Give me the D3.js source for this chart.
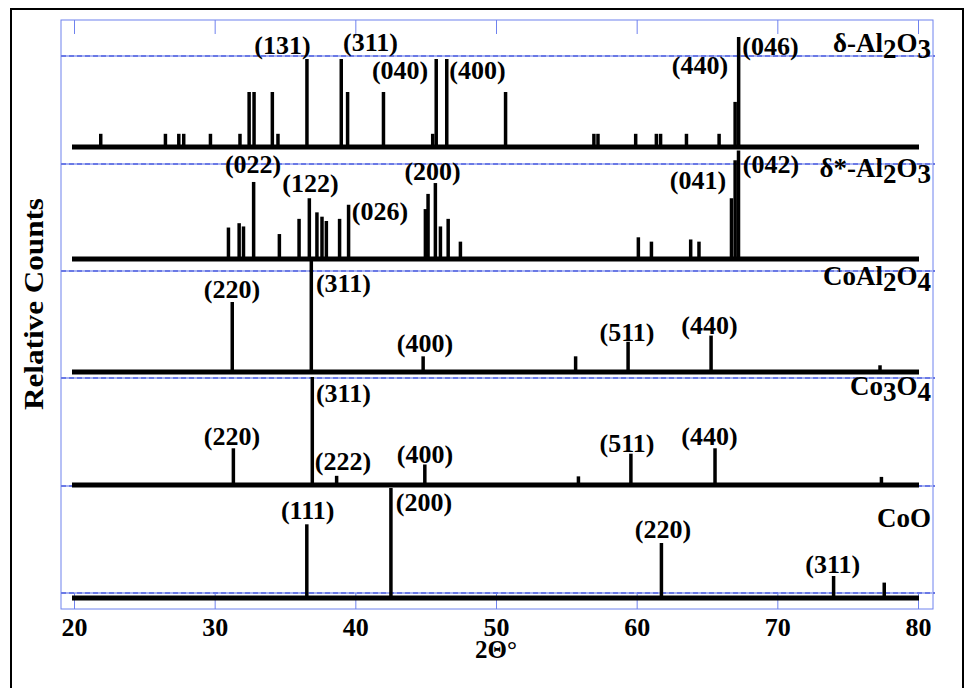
<!DOCTYPE html>
<html><head><meta charset="utf-8">
<script src="https://cdn.jsdelivr.net/npm/d3@7"></script>
<style>
body{margin:0;background:#fff}
text{font-family:"Liberation Serif","Times New Roman",serif;font-weight:bold;fill:#000}
</style>
</head><body>
<svg id="chart" width="973" height="688"></svg>
<script>
// ---------- data ----------
const xTicks = [20, 30, 40, 50, 60, 70, 80];
const xTitle = "2Θ°";
const yTitle = "Relative Counts";

// δ-Al2O3
const deltaPos = [21.9, 26.5, 27.45, 27.8, 29.7, 31.8, 32.45, 32.8, 34.1, 34.5, 36.56, 39.0, 39.45, 42.0, 45.5, 45.75, 46.5, 50.68, 56.96, 57.25, 59.93, 61.4, 61.7, 63.54, 65.86, 67.0, 67.25];
const deltaInt = [12, 12, 12, 12, 12, 12, 50, 50, 50, 12, 80, 80, 50, 50, 12, 80, 80, 50, 12, 12, 12, 12, 12, 12, 12, 41, 100];
const deltaLabelText = ["(131)", "(311)", "(040)", "(400)", "(440)", "(046)"];
const deltaLabelX = [34.82, 41.08, 43.18, 48.68, 64.50, 69.51];
const deltaLabelY = [84.5, 87.3, 61.8, 61.8, 66.5, 83.2];

// δ*-Al2O3
const dstarPos = [30.98, 31.74, 32.05, 32.77, 34.6, 36.0, 36.73, 37.27, 37.63, 37.94, 38.88, 39.52, 44.98, 45.17, 45.69, 46.05, 46.6, 47.47, 60.12, 61.05, 63.84, 64.43, 66.74, 67.0, 67.24];
const dstarInt = [29, 33, 30, 71, 23, 37, 56, 43, 39, 35, 37, 50, 46, 60, 70, 30, 37, 16, 20, 16, 18, 16, 56, 91, 100];
const dstarLabelText = ["(022)", "(122)", "(026)", "(200)", "(041)", "(042)"];
const dstarLabelX = [32.73, 36.81, 41.75, 45.49, 64.36, 69.55];
const dstarLabelY = [79.0, 61.4, 36.3, 72.6, 64.2, 79.5];

// CoAl2O4
const coalPos = [31.25, 36.87, 44.82, 55.66, 59.39, 65.29, 77.3];
const coalInt = [62.5, 100, 14, 14, 27, 32.5, 6];
const coalLabelText = ["(220)", "(311)", "(400)", "(511)", "(440)"];
const coalLabelX = [31.23, 39.15, 44.95, 59.31, 65.18];
const coalLabelY = [66.5, 71.4, 17.9, 27.7, 33.9];

// Co3O4
const co3Pos = [31.33, 36.94, 38.67, 44.94, 55.86, 59.59, 65.57, 77.4];
const co3Int = [34, 100, 8.5, 19, 8, 29, 34, 7.5];
const co3LabelText = ["(311)", "(220)", "(222)", "(400)", "(511)", "(440)"];
const co3LabelX = [39.15, 31.23, 39.12, 44.95, 59.31, 65.18];
const co3LabelY = [76.6, 37.4, 14.0, 20.6, 30.8, 37.4];

// CoO
const cooPos = [36.55, 42.53, 61.76, 74.0, 77.6];
const cooInt = [67, 100, 50, 20, 14];
const cooLabelText = ["(111)", "(200)", "(220)", "(311)"];
const cooLabelX = [36.61, 44.88, 61.87, 73.94];
const cooLabelY = [71.6, 78.9, 55.0, 22.9];

// phase names: [text, isSubscript]
const deltaName = [["δ-Al", 0], ["2", 1], ["O", 0], ["3", 1]];
const dstarName = [["δ*-Al", 0], ["2", 1], ["O", 0], ["3", 1]];
const coalName = [["CoAl", 0], ["2", 1], ["O", 0], ["4", 1]];
const co3Name = [["Co", 0], ["3", 1], ["O", 0], ["4", 1]];
const cooName = [["CoO", 0]];

// ---------- layout ----------
const frame = {left: 61, right: 933, top: 20, bottom: 609};
const separators = [56, 164, 271, 378, 486, 593];
const panels = [
  {pos: deltaPos, int: deltaInt, lt: deltaLabelText, lx: deltaLabelX, ly: deltaLabelY, name: deltaName, base: 147, top: 37, nameY: 52},
  {pos: dstarPos, int: dstarInt, lt: dstarLabelText, lx: dstarLabelX, ly: dstarLabelY, name: dstarName, base: 259, top: 150.5, nameY: 177},
  {pos: coalPos, int: coalInt, lt: coalLabelText, lx: coalLabelX, ly: coalLabelY, name: coalName, base: 372, top: 260, nameY: 285},
  {pos: co3Pos, int: co3Int, lt: co3LabelText, lx: co3LabelX, ly: co3LabelY, name: co3Name, base: 485, top: 377, nameY: 395},
  {pos: cooPos, int: cooInt, lt: cooLabelText, lx: cooLabelX, ly: cooLabelY, name: cooName, base: 598, top: 488, nameY: 527}
];

const svg = d3.select("#chart");
const x = d3.scaleLinear().domain([20, 80]).range([74, 918]);
const blue = "#6f82ee";

// outer black border
svg.append("rect").attr("x", 11).attr("y", 9).attr("width", 952).attr("height", 700)
  .attr("fill", "none").attr("stroke", "#000").attr("stroke-width", 2);

// blue frame
svg.append("rect").attr("x", frame.left).attr("y", frame.top)
  .attr("width", frame.right - frame.left).attr("height", frame.bottom - frame.top)
  .attr("fill", "none").attr("stroke", blue).attr("stroke-width", 1);

// top ticks
const topAxis = d3.axisTop(x).tickValues(xTicks).tickSize(-14).tickFormat("");
svg.append("g").attr("transform", `translate(0,${frame.top})`).call(topAxis)
  .call(g => g.select(".domain").remove())
  .call(g => g.selectAll("line").attr("stroke", blue));

// separators (dashed blue)
separators.forEach(yy => {
  svg.append("line").attr("x1", frame.left).attr("x2", frame.right + 2).attr("y1", yy).attr("y2", yy)
    .attr("stroke", "#a9b4f4").attr("stroke-width", 2);
  svg.append("line").attr("x1", frame.left).attr("x2", frame.right + 2).attr("y1", yy).attr("y2", yy)
    .attr("stroke", "#5566e0").attr("stroke-width", 1.5).attr("stroke-dasharray", "5,3");
});

// bottom axis ticks in box
const botAxis = d3.axisBottom(x).tickValues(xTicks).tickSize(frame.bottom - separators[5]).tickFormat("");
svg.append("g").attr("transform", `translate(0,${separators[5]})`).call(botAxis)
  .call(g => g.select(".domain").remove())
  .call(g => g.selectAll("line").attr("stroke", blue));

// bottom labels
const labAxis = d3.axisBottom(x).tickValues(xTicks).tickSize(0).tickPadding(0).tickFormat(d3.format("d"));
svg.append("g").attr("transform", `translate(0,${frame.bottom})`).call(labAxis)
  .call(g => g.select(".domain").remove())
  .call(g => g.selectAll("text").attr("font-size", 26).attr("dy", null).attr("y", 27)
    .attr("font-family", "Liberation Serif, Times New Roman, serif").attr("font-weight", "bold"));

svg.append("text").attr("x", x(50)).attr("y", 658).attr("text-anchor", "middle").attr("font-size", 25).text(xTitle);
svg.append("text").attr("transform", `translate(43,304) rotate(-90)`)
  .attr("text-anchor", "middle").attr("font-size", 27)
  .attr("textLength", 212).attr("lengthAdjust", "spacingAndGlyphs").text(yTitle);

// panels
panels.forEach(p => {
  const y = d3.scaleLinear().domain([0, 100]).range([p.base, p.top]);
  const g = svg.append("g");
  // baseline
  g.append("line").attr("x1", x(20) - 2).attr("x2", x(80) + 1).attr("y1", y(0)).attr("y2", y(0))
    .attr("stroke", "#000").attr("stroke-width", 5);
  // peaks
  g.selectAll("line.pk").data(p.pos.map((v, i) => ({v, I: p.int[i]}))).join("line")
    .attr("class", "pk")
    .attr("x1", d => x(d.v)).attr("x2", d => x(d.v))
    .attr("y1", y(0)).attr("y2", d => y(d.I))
    .attr("stroke", "#000").attr("stroke-width", 3.5);
  // peak labels
  g.selectAll("text.lab").data(p.lt.map((t, i) => ({t, xv: p.lx[i], yv: p.ly[i]}))).join("text")
    .attr("class", "lab").attr("x", d => x(d.xv)).attr("y", d => y(d.yv))
    .attr("text-anchor", "middle").attr("font-size", 26).text(d => d.t);
  // phase name
  const nt = g.append("text").attr("x", 931).attr("y", p.nameY).attr("text-anchor", "end").attr("font-size", 27);
  let shifted = 0;
  p.name.forEach(([s, sub]) => {
    const dy = sub ? 6 - shifted : -shifted;
    nt.append("tspan").attr("dy", dy).text(s);
    shifted = sub ? 6 : 0;
  });
});
</script>
</body></html>
